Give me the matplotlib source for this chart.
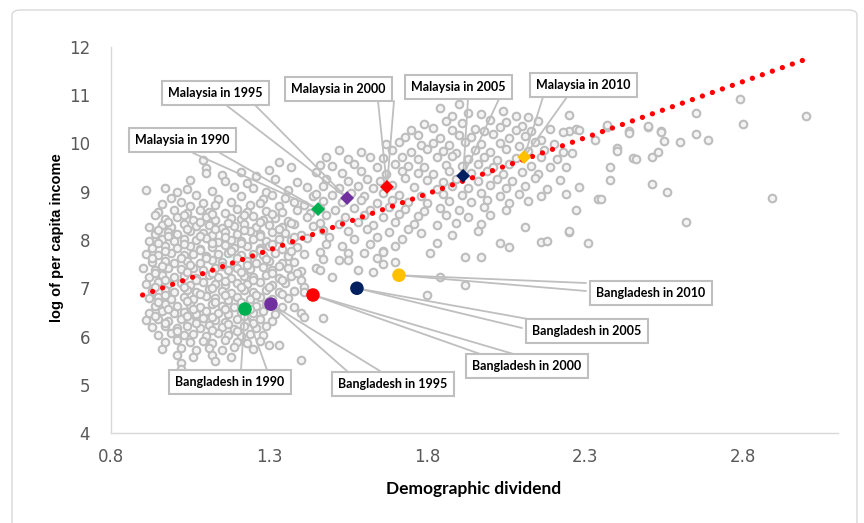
import matplotlib
matplotlib.use("Agg")
import matplotlib.pyplot as plt
from matplotlib.patches import FancyBboxPatch
import numpy as np

# ---------------- data ----------------
# grey cloud: dense low-income cluster
cluster_pts = [
    (1.09, 9.66), (1.33, 9.62),
    (1.10, 9.49), (1.37, 9.52), (1.30, 9.46),
    (1.10, 9.38), (1.15, 9.35), (1.21, 9.40), (1.26, 9.33),
    (1.05, 9.24), (1.16, 9.22), (1.23, 9.18), (1.32, 9.27), (1.39, 9.21),
    (0.91, 9.04), (0.97, 9.08), (1.01, 9.00), (1.04, 9.05), (1.12, 9.02), (1.19, 9.09), (1.25, 9.07), (1.29, 8.99), (1.36, 9.04), (1.42, 9.10),
    (0.99, 8.88), (1.07, 8.93), (1.14, 8.86), (1.21, 8.91), (1.28, 8.85), (1.31, 8.94), (1.35, 8.88), (1.44, 8.92),
    (0.96, 8.74), (1.02, 8.78), (1.05, 8.71), (1.09, 8.77), (1.13, 8.73), (1.18, 8.79), (1.24, 8.72), (1.27, 8.76), (1.33, 8.70), (1.38, 8.78), (1.41, 8.73),
    (0.95, 8.58), (1.00, 8.62), (1.04, 8.56), (1.08, 8.63), (1.11, 8.59), (1.16, 8.55), (1.20, 8.64), (1.23, 8.58), (1.29, 8.61), (1.34, 8.57), (1.39, 8.63), (1.43, 8.55),
    (0.97, 8.44), (1.01, 8.48), (1.06, 8.42), (1.10, 8.47), (1.13, 8.41), (1.18, 8.46), (1.21, 8.43), (1.25, 8.49), (1.28, 8.42), (1.32, 8.45), (1.36, 8.40), (1.42, 8.47),
    (0.92, 8.27), (0.96, 8.31), (0.99, 8.26), (1.03, 8.33), (1.07, 8.28), (1.11, 8.32), (1.15, 8.25), (1.19, 8.30), (1.22, 8.34), (1.26, 8.27), (1.30, 8.31), (1.34, 8.26), (1.38, 8.33), (1.44, 8.29),
    (0.94, 8.13), (0.98, 8.17), (1.01, 8.12), (1.05, 8.18), (1.09, 8.14), (1.12, 8.11), (1.16, 8.16), (1.20, 8.13), (1.24, 8.19), (1.27, 8.12), (1.31, 8.17), (1.35, 8.14), (1.40, 8.11),
    (0.92, 7.98), (0.96, 8.02), (1.00, 7.97), (1.03, 8.03), (1.07, 7.99), (1.10, 8.04), (1.14, 7.96), (1.18, 8.01), (1.21, 7.98), (1.25, 8.03), (1.29, 7.97), (1.33, 8.02), (1.37, 7.99), (1.42, 8.04),
    (0.93, 7.84), (0.97, 7.88), (1.01, 7.83), (1.05, 7.87), (1.08, 7.82), (1.12, 7.86), (1.16, 7.89), (1.19, 7.83), (1.23, 7.87), (1.27, 7.84), (1.30, 7.88), (1.34, 7.82), (1.39, 7.86),
    (0.91, 7.71), (0.95, 7.68), (0.99, 7.73), (1.03, 7.69), (1.06, 7.72), (1.10, 7.67), (1.14, 7.71), (1.17, 7.74), (1.21, 7.68), (1.25, 7.72), (1.28, 7.69), (1.32, 7.73), (1.36, 7.67), (1.41, 7.71),
    (0.93, 7.54), (0.97, 7.57), (1.00, 7.52), (1.04, 7.56), (1.08, 7.53), (1.12, 7.58), (1.15, 7.54), (1.19, 7.51), (1.23, 7.57), (1.26, 7.53), (1.30, 7.56), (1.34, 7.52), (1.38, 7.55),
    (0.90, 7.41), (0.94, 7.38), (0.98, 7.42), (1.02, 7.39), (1.06, 7.43), (1.09, 7.37), (1.13, 7.41), (1.17, 7.38), (1.20, 7.42), (1.24, 7.39), (1.28, 7.44), (1.31, 7.38), (1.36, 7.41), (1.40, 7.36),
    (0.92, 7.24), (0.96, 7.27), (1.00, 7.23), (1.03, 7.26), (1.07, 7.22), (1.11, 7.28), (1.14, 7.24), (1.18, 7.21), (1.22, 7.26), (1.25, 7.23), (1.29, 7.27), (1.33, 7.22), (1.37, 7.25),
    (0.91, 7.09), (0.95, 7.12), (0.98, 7.08), (1.02, 7.11), (1.05, 7.07), (1.09, 7.13), (1.13, 7.09), (1.16, 7.06), (1.20, 7.11), (1.23, 7.08), (1.27, 7.12), (1.31, 7.07), (1.35, 7.10),
    (0.93, 6.94), (0.97, 6.97), (1.00, 6.93), (1.04, 6.96), (1.07, 6.92), (1.11, 6.98), (1.15, 6.94), (1.18, 6.91), (1.22, 6.96), (1.25, 6.93), (1.29, 6.97), (1.33, 6.92), (1.38, 6.95),
    (0.92, 6.79), (0.95, 6.82), (0.99, 6.78), (1.03, 6.81), (1.06, 6.77), (1.10, 6.83), (1.13, 6.79), (1.17, 6.76), (1.20, 6.81), (1.24, 6.78), (1.27, 6.82), (1.31, 6.77), (1.36, 6.80),
    (0.94, 6.64), (0.97, 6.67), (1.01, 6.63), (1.05, 6.66), (1.08, 6.62), (1.12, 6.68), (1.15, 6.64), (1.19, 6.61), (1.22, 6.66), (1.26, 6.63), (1.29, 6.67), (1.34, 6.62),
    (0.92, 6.49), (0.96, 6.52), (1.00, 6.48), (1.03, 6.51), (1.07, 6.47), (1.10, 6.53), (1.14, 6.49), (1.17, 6.46), (1.21, 6.51), (1.25, 6.48), (1.28, 6.52), (1.32, 6.47),
    (0.91, 6.34), (0.95, 6.37), (0.98, 6.33), (1.02, 6.36), (1.05, 6.32), (1.09, 6.38), (1.13, 6.34), (1.16, 6.31), (1.20, 6.36), (1.23, 6.33), (1.27, 6.37), (1.31, 6.32),
    (0.93, 6.19), (0.97, 6.22), (1.01, 6.18), (1.04, 6.21), (1.08, 6.17), (1.11, 6.23), (1.15, 6.19), (1.19, 6.16), (1.22, 6.21), (1.26, 6.18), (1.29, 6.22),
    (0.95, 6.04), (0.99, 6.07), (1.03, 6.03), (1.06, 6.06), (1.10, 6.02), (1.14, 6.08), (1.17, 6.04), (1.21, 6.01), (1.24, 6.06), (1.28, 6.03),
    (0.97, 5.89), (1.01, 5.92), (1.05, 5.88), (1.09, 5.91), (1.12, 5.87), (1.16, 5.93), (1.20, 5.89), (1.23, 5.86), (1.27, 5.91),
    (0.96, 5.74), (1.02, 5.77), (1.07, 5.73), (1.11, 5.76), (1.15, 5.72), (1.19, 5.78), (1.25, 5.75), (1.30, 5.83),
    (1.01, 5.61), (1.06, 5.58), (1.12, 5.62), (1.18, 5.57),
    (1.02, 5.46), (1.13, 5.50), (1.40, 5.51),
    (1.02, 5.33), (1.03, 5.22), (1.33, 5.82),
]

# grey cloud: extra points filling the core of the dense cluster
cluster_core_pts = [
    (0.94, 8.52), (1.03, 8.51), (1.12, 8.53), (1.22, 8.51), (1.31, 8.53),
    (0.98, 8.37), (1.08, 8.38), (1.17, 8.36), (1.27, 8.38), (1.37, 8.36),
    (0.95, 8.21), (1.04, 8.23), (1.13, 8.22), (1.22, 8.21), (1.33, 8.22),
    (0.98, 8.08), (1.08, 8.09), (1.16, 8.07), (1.27, 8.08), (1.38, 8.06),
    (0.95, 7.93), (1.03, 7.92), (1.12, 7.94), (1.21, 7.93), (1.31, 7.92),
    (0.97, 7.78), (1.08, 7.79), (1.18, 7.78), (1.27, 7.79), (1.37, 7.77),
    (0.93, 7.62), (1.02, 7.63), (1.10, 7.62), (1.20, 7.63), (1.29, 7.61),
    (0.96, 7.47), (1.05, 7.48), (1.15, 7.46), (1.23, 7.48), (1.33, 7.47),
    (0.94, 7.32), (1.04, 7.33), (1.12, 7.31), (1.21, 7.33), (1.31, 7.32),
    (0.97, 7.17), (1.07, 7.18), (1.16, 7.16), (1.25, 7.17), (1.34, 7.18),
    (0.94, 7.02), (1.03, 7.03), (1.12, 7.01), (1.21, 7.03), (1.30, 7.02),
    (0.97, 6.87), (1.08, 6.88), (1.16, 6.86), (1.26, 6.87), (1.34, 6.88),
    (0.95, 6.72), (1.04, 6.73), (1.13, 6.71), (1.21, 6.72), (1.30, 6.73),
    (0.98, 6.57), (1.06, 6.58), (1.16, 6.56), (1.24, 6.57),
    (0.94, 6.42), (1.04, 6.43), (1.12, 6.41), (1.22, 6.43),
    (0.97, 6.27), (1.07, 6.28), (1.17, 6.26), (1.25, 6.27),
    (1.01, 6.12), (1.12, 6.13), (1.20, 6.11),
]

# grey cloud: middle / upper band
middle_pts = [
    (1.84, 10.73), (1.90, 10.82),
    (1.88, 10.57), (1.97, 10.61), (2.04, 10.68), (2.08, 10.58), (2.12, 10.55), (1.93, 10.63),
    (1.79, 10.40), (1.86, 10.46), (1.91, 10.42), (2.00, 10.48), (2.05, 10.44), (2.10, 10.37), (2.15, 10.47),
    (1.75, 10.27), (1.82, 10.33), (1.88, 10.29), (1.95, 10.31), (1.98, 10.26), (2.03, 10.34), (2.08, 10.28), (2.13, 10.25), (2.19, 10.31),
    (1.73, 10.14), (1.77, 10.18), (1.84, 10.12), (1.90, 10.17), (1.94, 10.13), (2.01, 10.19), (2.06, 10.11), (2.11, 10.16), (2.16, 10.08),
    (1.67, 9.98), (1.71, 10.03), (1.78, 9.97), (1.82, 10.02), (1.87, 9.96), (1.92, 10.04), (1.97, 9.99), (2.03, 10.01), (2.09, 9.95), (2.14, 10.03), (2.20, 9.98),
    (1.52, 9.86), (1.59, 9.83), (1.69, 9.87), (1.75, 9.82), (1.80, 9.88), (1.85, 9.84), (1.89, 9.81), (1.95, 9.87), (2.00, 9.83), (2.05, 9.89), (2.12, 9.84), (2.17, 9.86), (2.23, 9.82),
    (1.48, 9.71), (1.55, 9.68), (1.62, 9.73), (1.66, 9.69), (1.72, 9.72), (1.77, 9.67), (1.83, 9.71), (1.88, 9.74), (1.93, 9.68), (1.98, 9.72), (2.02, 9.66), (2.08, 9.70), (2.16, 9.73), (2.21, 9.68),
    (1.46, 9.56), (1.50, 9.53), (1.57, 9.57), (1.64, 9.52), (1.70, 9.58), (1.74, 9.54), (1.79, 9.51), (1.86, 9.56), (1.91, 9.53), (1.96, 9.58), (2.01, 9.52), (2.06, 9.57), (2.13, 9.54), (2.19, 9.51),
    (1.45, 9.41), (1.53, 9.38), (1.59, 9.42), (1.67, 9.37), (1.72, 9.43), (1.77, 9.39), (1.82, 9.36), (1.87, 9.42), (1.94, 9.38), (1.99, 9.44), (2.04, 9.37), (2.10, 9.41), (2.15, 9.36),
    (1.48, 9.26), (1.55, 9.23), (1.61, 9.27), (1.65, 9.22), (1.73, 9.28), (1.80, 9.24), (1.85, 9.21), (1.89, 9.27), (1.96, 9.23), (2.02, 9.26), (2.07, 9.22), (2.14, 9.28), (2.22, 9.24),
    (1.47, 9.11), (1.52, 9.08), (1.58, 9.12), (1.63, 9.07), (1.69, 9.13), (1.76, 9.09), (1.83, 9.06), (1.88, 9.12), (1.93, 9.08), (2.00, 9.13), (2.05, 9.07), (2.11, 9.11), (2.18, 9.06),
    (1.45, 8.96), (1.50, 8.93), (1.56, 8.97), (1.60, 8.92), (1.66, 8.98), (1.71, 8.94), (1.78, 8.91), (1.85, 8.96), (1.91, 8.93), (1.97, 8.98), (2.03, 8.92), (2.09, 8.96), (2.16, 8.91), (2.24, 8.95),
    (1.47, 8.81), (1.53, 8.78), (1.59, 8.82), (1.64, 8.77), (1.69, 8.83), (1.74, 8.79), (1.80, 8.76), (1.87, 8.81), (1.94, 8.78), (1.99, 8.83), (2.06, 8.77), (2.12, 8.80),
    (1.46, 8.66), (1.51, 8.63), (1.57, 8.67), (1.62, 8.62), (1.68, 8.68), (1.73, 8.64), (1.79, 8.61), (1.84, 8.66), (1.90, 8.63), (1.98, 8.68), (2.05, 8.62), (2.27, 8.62),
    (1.48, 8.51), (1.54, 8.48), (1.60, 8.52), (1.66, 8.47), (1.71, 8.53), (1.77, 8.49), (1.86, 8.52), (1.93, 8.47), (2.00, 8.51),
    (1.46, 8.36), (1.52, 8.33), (1.58, 8.37), (1.63, 8.32), (1.70, 8.38), (1.76, 8.34), (1.83, 8.31), (1.89, 8.36), (1.97, 8.33),
    (1.47, 8.21), (1.55, 8.18), (1.61, 8.22), (1.68, 8.17), (1.74, 8.23), (1.96, 8.19), (2.11, 8.27),
    (1.49, 8.06), (1.57, 8.03), (1.64, 8.07), (1.72, 8.02), (2.03, 7.93),
    (1.48, 7.91), (1.53, 7.88), (1.62, 7.92), (1.70, 7.87), (2.06, 7.86), (2.16, 7.96), (2.18, 7.97), (2.31, 7.93),
    (1.46, 7.76), (1.55, 7.73), (1.66, 7.77),
    (1.47, 7.61), (1.52, 7.58), (1.64, 7.62), (1.92, 7.65), (1.97, 7.65),
]

# grey cloud: sparse points (lower middle and right tail)
sparse_pts = [
    (1.45, 7.41), (1.50, 7.24), (1.58, 7.37), (1.66, 7.51), (1.70, 7.55), (1.84, 7.24), (1.80, 6.86), (1.92, 7.07),
    (1.39, 7.32), (1.40, 7.17), (1.41, 7.03), (1.41, 6.92), (1.38, 6.61), (1.40, 6.49), (1.41, 6.40), (1.47, 6.38),
    (1.46, 7.38), (1.55, 7.59), (1.63, 7.34), (1.66, 7.75), (1.60, 7.73),
    (1.78, 8.15), (1.83, 7.94), (1.81, 7.73), (1.88, 8.10),
    (2.25, 10.25), (2.27, 10.31), (2.37, 10.35), (2.44, 10.25), (2.50, 10.35), (2.54, 10.25), (2.60, 10.03),
    (2.65, 10.63), (2.65, 10.20), (2.69, 10.07), (2.79, 10.92), (2.80, 10.40), (3.00, 10.57),
    (2.40, 9.90), (2.45, 9.69), (2.51, 9.72), (2.53, 9.82), (2.50, 10.36), (2.54, 10.24), (2.55, 10.05),
    (2.51, 9.17), (2.56, 9.00), (2.62, 8.37), (2.89, 8.87), (2.38, 9.52), (2.38, 9.24), (2.34, 8.86),
    (2.25, 8.17), (2.25, 10.59), (2.23, 10.24), (2.28, 10.28), (2.33, 10.07), (2.37, 10.38), (2.40, 9.84),
    (2.44, 10.22), (2.46, 9.68), (2.26, 9.80), (2.24, 9.51), (2.28, 9.10), (2.35, 8.85), (2.25, 8.19),
]

# highlighted countries
years = [1990, 1995, 2000, 2005, 2010]
year_colors = ["#00b050", "#7030a0", "#ff0000", "#002060", "#ffc000"]
malaysia_x = [1.455, 1.547, 1.673, 1.914, 2.107]
malaysia_y = [8.64, 8.87, 9.10, 9.33, 9.72]
bangladesh_x = [1.224, 1.306, 1.439, 1.578, 1.711]
bangladesh_y = [6.57, 6.67, 6.86, 7.00, 7.27]

# linear trend line end points
trend_x = [0.90, 3.00]
trend_y = [6.86, 11.75]

x_ticks = [0.8, 1.3, 1.8, 2.3, 2.8]
y_ticks = [4, 5, 6, 7, 8, 9, 10, 11, 12]

# ---------------- layout (pixels) ----------------
W, H = 864, 523
malaysia_box = [(182, 140), (215, 93), (338, 89), (458, 87), (583, 85)]
malaysia_anchor = [((193, 153), (220, 153)), ((226, 105), (255, 105)),
                   ((378, 101), (394, 101)), ((468, 99), (499, 99)),
                   ((543, 97), (567, 97))]
bangladesh_box = [(230, 382), (393, 384), (527, 366), (587, 331), (651, 293)]
bangladesh_anchor = [((241, 370), (267, 370)), ((347, 371), (380, 371)),
                     ((483, 355), (517, 355)), ((528, 319), (522, 328)),
                     ((586, 283), (586, 291))]

fig = plt.figure(figsize=(W / 100, H / 100), dpi=100)
ax = fig.add_axes([111 / W, 1 - 433 / H, (838 - 111) / W, (433 - 47) / H])

grey = np.array(cluster_pts + cluster_core_pts + middle_pts + sparse_pts)
ax.scatter(grey[:, 0], grey[:, 1], s=30, facecolor="#f4f4f4",
           edgecolor="#bdbdbd", linewidth=1.5, zorder=2)

ax.plot(trend_x, trend_y, color="#ff0000", linewidth=3.8,
        dashes=(0.01, 2.0), dash_capstyle="round", zorder=4)

ax.set_xlim(0.8, 3.1)
ax.set_ylim(4, 12)
ax.set_xticks(x_ticks)
ax.set_xticklabels([f"{v:.1f}" for v in x_ticks])
ax.set_yticks(y_ticks)
for s in ["top", "right"]:
    ax.spines[s].set_visible(False)
for s in ["left", "bottom"]:
    ax.spines[s].set_color("#d9d9d9")
    ax.spines[s].set_linewidth(1.0)
ax.tick_params(length=0, colors="#595959", labelsize=12)
ax.tick_params(axis="x", pad=11)
ax.tick_params(axis="y", pad=15)
for lab in ax.get_xticklabels() + ax.get_yticklabels():
    lab.set_family(["Liberation Sans Narrow", "DejaVu Sans"])

fig.text(474 / W, 1 - 489 / H, "Demographic dividend", ha="center", va="center",
         fontsize=12.5, fontweight="bold", family=["Lato", "DejaVu Sans"], color="#000000")
fig.text(57 / W, 1 - 238 / H, "log of per capita income", ha="center", va="center",
         rotation=90, fontsize=10.5, fontweight="bold",
         family=["Liberation Sans", "DejaVu Sans"], color="#000000")

# leader wedges
def wedge(px_pairs, dx, dy):
    for (ax_px, ay_px) in px_pairs:
        ax.annotate("", xy=(dx, dy), xycoords="data",
                    xytext=(ax_px, H - ay_px), textcoords="figure pixels",
                    arrowprops=dict(arrowstyle="-", color="#bfbfbf", lw=1.3,
                                    shrinkA=0, shrinkB=0), zorder=5)

for i in range(len(years)):
    wedge(malaysia_anchor[i], malaysia_x[i], malaysia_y[i])
    wedge(bangladesh_anchor[i], bangladesh_x[i], bangladesh_y[i])

ax.scatter(malaysia_x, malaysia_y, marker="D", s=50, c=year_colors,
           edgecolors="none", zorder=7)
ax.scatter(bangladesh_x, bangladesh_y, marker="o", s=95, c=year_colors,
           edgecolors="none", zorder=7)

box = dict(boxstyle="square,pad=0.5", facecolor="white", edgecolor="#bfbfbf", linewidth=1.5)
for i, yr in enumerate(years):
    bx, by = malaysia_box[i]
    fig.text(bx / W, 1 - by / H, f"Malaysia in {yr}", ha="center", va="center",
             fontsize=9, fontweight="bold", family=["Lato", "DejaVu Sans"],
             bbox=box, zorder=10)
    bx, by = bangladesh_box[i]
    fig.text(bx / W, 1 - by / H, f"Bangladesh in {yr}", ha="center", va="center",
             fontsize=9, fontweight="bold", family=["Lato", "DejaVu Sans"],
             bbox=box, zorder=10)

# outer chart border
border = FancyBboxPatch((12 / W, -0.05), (857 - 12) / W, 1.05 - 10 / H,
                        boxstyle="round,pad=0,rounding_size=0.01",
                        transform=fig.transFigure, fill=False,
                        edgecolor="#d9d9d9", linewidth=1.0, clip_on=False)
fig.patches.append(border)

fig.savefig("out.png", dpi=100)
